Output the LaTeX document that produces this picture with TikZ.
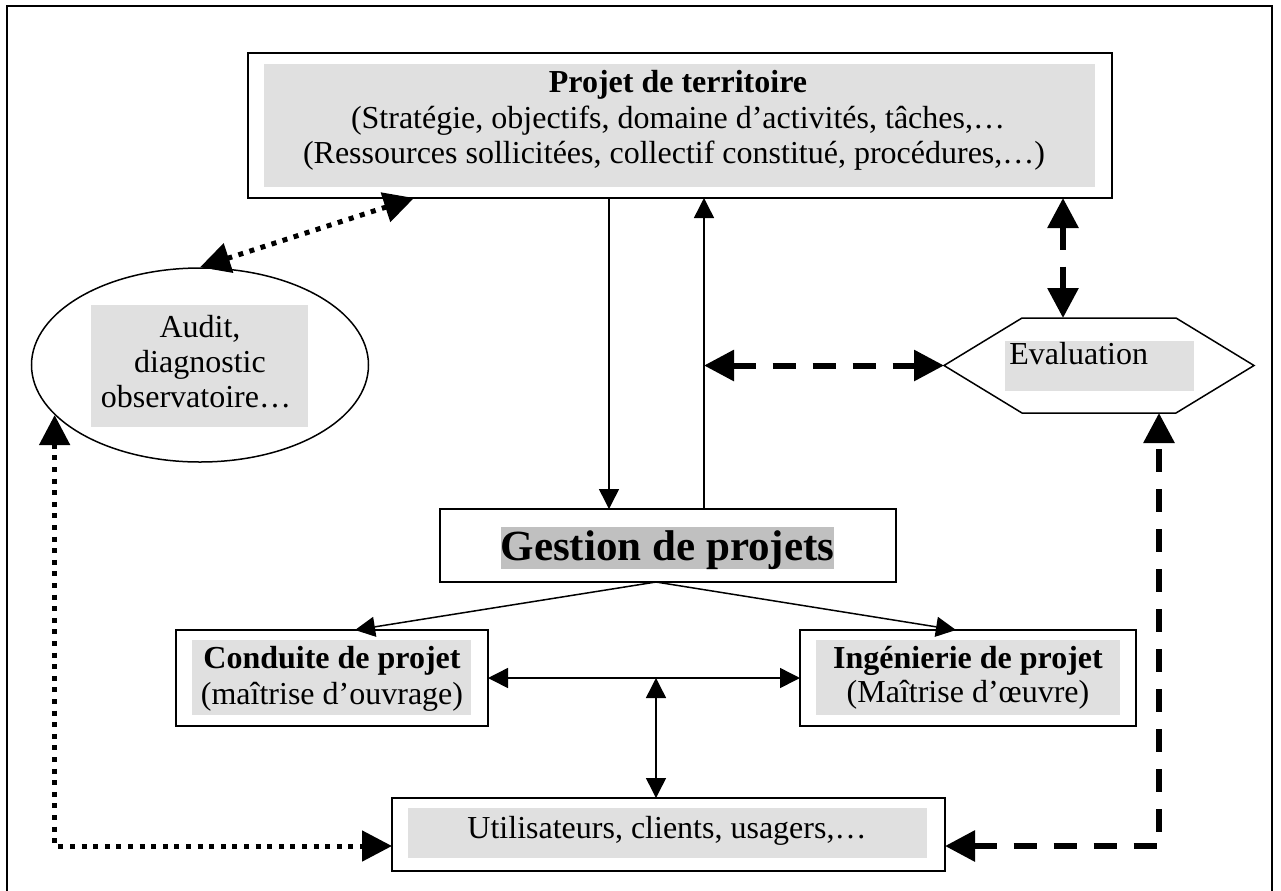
\documentclass[tikz,border=0pt]{standalone}
\usepackage{fontspec}
\setmainfont{Liberation Serif}
\usetikzlibrary{arrows.meta,shapes.geometric}
\definecolor{lightbg}{RGB}{224,224,224}
\definecolor{midbg}{RGB}{192,192,192}
\begin{document}
\begin{tikzpicture}[x=0.5pt,y=-0.5pt,
  box/.style={draw, line width=1pt, fill=white, rectangle, inner sep=0pt, outer sep=0pt},
  bgbox/.style={fill=lightbg, rectangle, inner sep=0pt, outer sep=0pt},
  txt/.style={inner sep=0pt, anchor=base, font=\fontsize{16}{19}\selectfont},
  btxt/.style={inner sep=0pt, anchor=base, font=\fontsize{16}{19}\selectfont\bfseries},
  thinarr/.style={line width=0.75pt, -{Triangle[length=10pt,width=10pt]}},
  thinarrb/.style={line width=0.75pt, {Triangle[length=10pt,width=10pt]}-{Triangle[length=10pt,width=10pt]}},
  dotarr/.style={line width=2.5pt, dash pattern=on 2.5pt off 3.3pt, {Triangle[length=15pt,width=15pt]}-{Triangle[length=15pt,width=15pt]}},
  dasharr/.style={line width=3pt, dash pattern=on 11.5pt off 8.5pt, {Triangle[length=15pt,width=15pt]}-{Triangle[length=15pt,width=15pt]}}
]
\useasboundingbox (0,0) rectangle (1281,890);
% outer frame
\draw[line width=1pt] (7,900) -- (7,6) -- (1272,6) -- (1272,900);

% x / y positions of connectors
\coordinate (xdn) at (609,0);
\coordinate (xup) at (704,0);
\coordinate (xdot) at (414,0);
\coordinate (xev) at (1063,0);
\coordinate (xr) at (1159,0);
\coordinate (xm) at (656,0);
\coordinate (xc) at (355,0);
\coordinate (xi) at (956,0);
\coordinate (ydot) at (0,846);

% top box
\node[box, minimum width=432pt, minimum height=72.5pt] (top) at (680,125.5) {};
\node[bgbox, minimum width=415.5pt, minimum height=61.5pt] (topbg) at (679.5,125.5) {};
\node[btxt] (t1) at (678,92) {Projet de territoire};
\node[txt] (t2) at (678,128) {(Stratégie, objectifs, domaine d’activités, tâches,…};
\node[txt] (t3) at (674,163) {(Ressources sollicitées, collectif constitué, procédures,…)};

% ellipse
\node[draw, ellipse, line width=0.75pt, inner sep=0pt, minimum width=168.5pt, minimum height=97pt] (aud) at (200,365) {};
\node[bgbox, minimum width=108.5pt, minimum height=61pt] (audbg) at (199.5,366) {};
\node[txt] (a1) at (200,337) {Audit,};
\node[txt] (a2) at (200,372) {diagnostic};
\node[txt] (a3) at (196,407) {observatoire…};

% hexagon
\node[inner sep=0pt, outer sep=0pt, minimum width=155pt, minimum height=47.5pt] (ev) at (1099,365.5) {};
\draw[line width=0.75pt] (ev.west) -- ([xshift=39pt]ev.north west) -- ([xshift=-39pt]ev.north east) -- (ev.east) -- ([xshift=-39pt]ev.south east) -- ([xshift=39pt]ev.south west) -- cycle;
\node[bgbox, minimum width=94.5pt, minimum height=25pt] (evbg) at (1099.5,366) {};
\node[txt, anchor=base west] (evt) at (1009,364) {Evaluation};

% gestion
\node[box, minimum width=228pt, minimum height=36.5pt] (ges) at (668,545.5) {};
\node[inner sep=0pt, outer sep=0pt, anchor=base, fill=midbg, text height=16.5pt, text depth=4.5pt, font=\fontsize{21.5}{24}\selectfont\bfseries] (gt) at (667.5,560) {Gestion de projets};

% conduite
\node[box, minimum width=156pt, minimum height=48pt] (cond) at (332,678) {};
\node[bgbox, minimum width=139.5pt, minimum height=37.5pt] (condbg) at (331.5,677.5) {};
\node[btxt] (c1) at (332,668) {Conduite de projet};
\node[txt] (c2) at (332,704) {(maîtrise d’ouvrage)};

% ingenierie
\node[box, minimum width=168pt, minimum height=48pt] (ing) at (968,678) {};
\node[bgbox, minimum width=152pt, minimum height=37.5pt] (ingbg) at (968,677.5) {};
\node[btxt] (i1) at (968,668) {Ingénierie de projet};
\node[txt] (i2) at (968,702) {(Maîtrise d’œuvre)};

% utilisateurs
\node[box, minimum width=276.5pt, minimum height=36.5pt] (ut) at (668.5,834.5) {};
\node[bgbox, minimum width=259.5pt, minimum height=25pt] (utbg) at (667.5,833) {};
\node[txt] (u1) at (667,838) {Utilisateurs, clients, usagers,…};

% connectors
\draw[thinarr] (top.south -| xdn) -- (ges.north -| xdn);
\draw[thinarr] (ges.north -| xup) -- (top.south -| xup);
\draw[dasharr] (top.south -| xev) -- (ev.north -| xev);
\draw[dasharr] (ev.west -| xup) -- (ev.west);
\draw[thinarr] (ges.south -| xm) -- (cond.north -| xc);
\draw[thinarr] (ges.south -| xm) -- (ing.north -| xi);
\draw[thinarrb] (cond.east) -- (ing.west);
\draw[thinarrb] (cond.east -| xm) -- (ut.north -| xm);
\draw[dotarr] (top.south -| xdot) -- (aud.north);
\draw[dotarr] (aud.199.6) |- (ut.west |- ydot);
\draw[dasharr] (ut.east |- ydot) -| (ev.south -| xr);
\end{tikzpicture}
\end{document}
